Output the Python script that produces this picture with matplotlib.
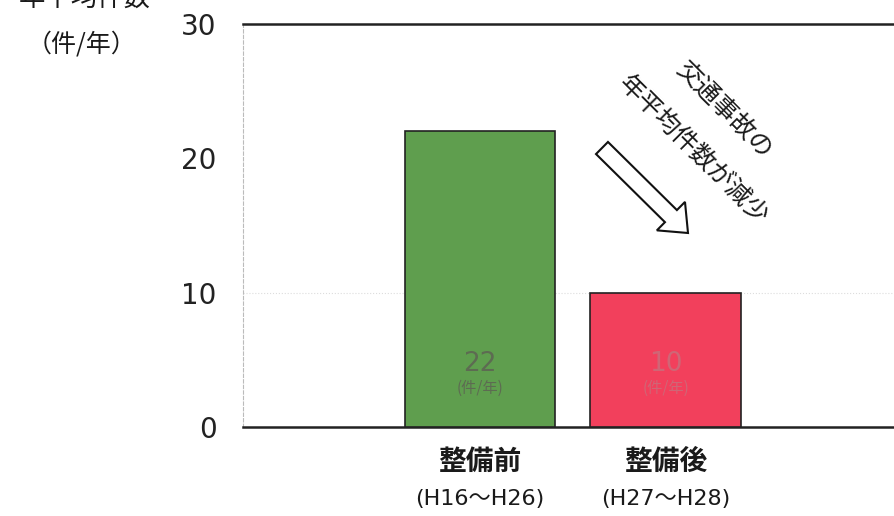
import numpy as np
import matplotlib.pyplot as plt
from matplotlib.patches import FancyArrow
from matplotlib.transforms import IdentityTransform, blended_transform_factory

plt.rcParams['font.family'] = ['Noto Sans CJK JP', 'DejaVu Sans']
latin = ['DejaVu Sans', 'Noto Sans CJK JP']

### data ###
categories = ['整備前', '整備後']
periods = ['(H16〜H26)', '(H27〜H28)']
values = [22, 10]
bar_colors = ['#5f9e4e', '#f2405c']
value_colors = ['#5d6b52', '#cf6676']
yticks = [0, 10, 20, 30]

fig = plt.figure(figsize=(8.94, 5.16), dpi=100)
W, H = 894, 516
# axes extends past the right edge like the cropped scan
ax = fig.add_axes([243 / W, 1 - 427 / H, (920 - 243) / W, (427 - 24) / H])

x = np.arange(len(categories))
ax.bar(x, values, width=0.81, color=bar_colors, edgecolor='#222222', linewidth=1.2, zorder=3)

px_per_unit = 185.5
ax.set_xlim(-237 / px_per_unit, (920 - 480) / px_per_unit)
ax.set_ylim(0, 30)
ax.set_yticks(yticks)
ax.set_yticklabels([str(t) for t in yticks], fontsize=20, color='#222222', family=latin)
ax.tick_params(axis='y', length=0, pad=19)
ax.set_xticks([])

ax.axhline(10, color='#dddddd', lw=0.8, ls=':', zorder=1)

for s in ['top', 'bottom']:
    ax.spines[s].set_color('#222222')
    ax.spines[s].set_linewidth(1.8)
ax.spines['left'].set_color('#bbbbbb')
ax.spines['left'].set_linestyle((0, (3, 2)))
ax.spines['left'].set_linewidth(0.8)
ax.spines['right'].set_visible(False)

# values inside bars
for xi, v, c in zip(x, values, value_colors):
    ax.text(xi, 4.7, str(v), ha='center', va='center', fontsize=19, color=c,
            family=latin, zorder=4)
    ax.text(xi, 2.9, '(件/年)', ha='center', va='center', fontsize=11, color=c, zorder=4)

# category labels below
trans = blended_transform_factory(ax.transData, ax.transAxes)
for xi, cat, per in zip(x, categories, periods):
    ax.text(xi, -0.087, cat, transform=trans, ha='center', va='center',
            fontsize=20, color='#1a1a1a', fontweight='bold')
    ax.text(xi, -0.178, per, transform=trans, ha='center', va='center',
            fontsize=16, color='#1a1a1a', family=latin)

# y axis unit label (top part cropped in the scan)
fig.text(85 / W, 1 + 2 / H, '年平均件数', ha='center', va='center', fontsize=19, color='#1a1a1a')
fig.text(82 / W, 1 - 45 / H, '（件/年）', ha='center', va='center', fontsize=18, color='#1a1a1a')

# annotation: arrow and rotated text
arrow = FancyArrow(602, H - 148, 86, -85, width=17, head_width=40,
                   head_length=24, length_includes_head=True,
                   facecolor='white', edgecolor='#111111', linewidth=1.5,
                   transform=IdentityTransform())
fig.add_artist(arrow)
fig.text(724 / W, 1 - 110 / H, '交通事故の', rotation=-45, ha='center', va='center',
         fontsize=18, color='#1a1a1a', rotation_mode='anchor')
fig.text(693 / W, 1 - 150 / H, '年平均件数が減少', rotation=-45, ha='center', va='center',
         fontsize=18, color='#1a1a1a', rotation_mode='anchor')

fig.savefig('out.png', dpi=100)
